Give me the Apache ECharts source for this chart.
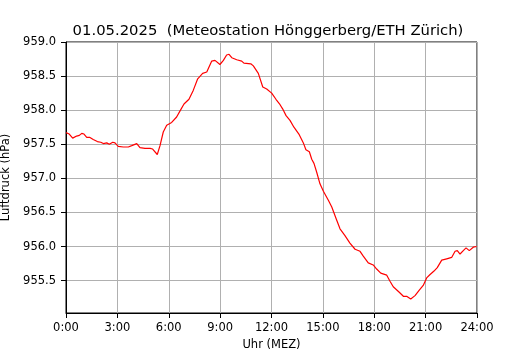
<!DOCTYPE html>
<html>
<head>
<meta charset="utf-8">
<script src="https://cdn.jsdelivr.net/npm/echarts@6/dist/echarts.min.js"></script>
<style>
    html, body { margin: 0; padding: 0; background: #fff; }
    #luftdruck_chart { width: 530px; height: 350px; }
</style>
</head>
<body>
<div id="luftdruck_chart"></div>
<script>
    // Uhrzeit in Stunden (MEZ)
    let hours = [0.0, 0.19, 0.39, 0.62, 0.78, 0.92, 1.05, 1.21, 1.40, 1.59, 1.83, 2.03, 2.18, 2.38, 2.53, 2.73, 2.86,
        3.05, 3.35, 3.64, 3.84, 4.13, 4.32, 4.61, 4.91, 5.06, 5.33, 5.49, 5.68, 5.88, 6.17, 6.46, 6.66, 6.89,
        7.18, 7.43, 7.69, 7.98, 8.22, 8.51, 8.70, 8.99, 9.19, 9.38, 9.52, 9.68, 9.97, 10.26, 10.39, 10.79,
        10.94, 11.23, 11.49, 11.72, 12.01, 12.26, 12.50, 12.65, 12.85, 13.08, 13.31, 13.62, 13.86, 14.01,
        14.21, 14.35, 14.48, 14.64, 14.83, 15.03, 15.32, 15.52, 15.77, 16.00, 16.29, 16.58, 16.88, 17.17,
        17.36, 17.65, 17.94, 18.14, 18.38, 18.73, 18.92, 19.11, 19.46, 19.70, 19.89, 20.13, 20.38, 20.63,
        20.86, 21.06, 21.26, 21.49, 21.68, 21.94, 22.23, 22.52, 22.72, 22.85, 23.01, 23.20, 23.36, 23.55,
        23.78, 23.98]
    // Luftdruck in hPa
    let pressure = [957.67, 957.65, 957.59, 957.62, 957.63, 957.66, 957.65, 957.60, 957.60, 957.57, 957.54, 957.53, 957.51, 957.52, 957.50, 957.53, 957.52,
        957.47, 957.46, 957.46, 957.48, 957.51, 957.45, 957.44, 957.44, 957.43, 957.35, 957.48, 957.68, 957.78, 957.82, 957.90, 957.99, 958.09,
        958.16, 958.29, 958.46, 958.54, 958.56, 958.72, 958.73, 958.67, 958.73, 958.81, 958.82, 958.77, 958.74, 958.72, 958.69, 958.68,
        958.65, 958.54, 958.34, 958.31, 958.25, 958.16, 958.08, 958.02, 957.92, 957.85, 957.75, 957.64, 957.52, 957.42,
        957.39, 957.28, 957.22, 957.09, 956.92, 956.81, 956.68, 956.58, 956.41, 956.26, 956.16, 956.05, 955.96, 955.93,
        955.86, 955.76, 955.73, 955.67, 955.61, 955.58, 955.49, 955.41, 955.33, 955.27, 955.27, 955.23, 955.28, 955.36,
        955.43, 955.54, 955.59, 955.64, 955.69, 955.80, 955.82, 955.84, 955.93, 955.94, 955.89, 955.94, 955.98, 955.94,
        955.99, 956.00]
    let yTicks = [955.5, 956.0, 956.5, 957.0, 957.5, 958.0, 958.5, 959.0]

    let chart = echarts.init(document.getElementById('luftdruck_chart'))
    let lineData = []
    for (let i = 0; i < hours.length; i++) {
        lineData.push([hours[i], pressure[i]])
    }

    const font = 'DejaVu Sans'
    const option = {
        animation: false,
        title: {
            text: '01.05.2025  (Meteostation Hönggerberg/ETH Zürich)',
            left: 263,
            textAlign: 'center',
            top: 19,
            textStyle: { fontFamily: font, fontSize: 14.8, fontWeight: 'normal', color: '#000' }
        },
        grid: {
            left: 66,
            right: 53,
            top: 42,
            bottom: 37,
            outerBoundsMode: 'none',
            containLabel: false,
            show: true,
            borderColor: '#000',
            borderWidth: 1
        },
        xAxis: {
            type: 'value',
            min: 0,
            max: 24,
            interval: 3,
            name: 'Uhr (MEZ)',
            nameLocation: 'middle',
            nameGap: 26,
            nameTextStyle: { fontFamily: font, fontSize: 11.5, color: '#000' },
            axisLine: { lineStyle: { color: '#000', width: 1 } },
            axisTick: { inside: false, length: 5, lineStyle: { color: '#000' } },
            axisLabel: {
                fontFamily: font, fontSize: 11.5, color: '#000', margin: 9,
                formatter: function (v) { return v + ':00' }
            },
            splitLine: { show: true, lineStyle: { color: '#b0b0b0', width: 1 } }
        },
        yAxis: {
            type: 'value',
            min: 955.025,
            max: 959.0,
            name: 'Luftdruck (hPa)',
            nameLocation: 'middle',
            nameGap: 51,
            nameTextStyle: { fontFamily: font, fontSize: 11.5, color: '#000' },
            axisLine: { show: true, lineStyle: { color: '#000', width: 1 } },
            axisTick: { show: true, length: 5, customValues: yTicks, lineStyle: { color: '#000' } },
            axisLabel: {
                fontFamily: font, fontSize: 11.5, color: '#000', margin: 10,
                customValues: yTicks,
                formatter: function (v) { return v.toFixed(1) }
            },
            splitLine: { show: true, lineStyle: { color: '#b0b0b0', width: 1 } }
        },
        series: [
            {
                type: 'line',
                data: lineData,
                showSymbol: false,
                lineStyle: { color: '#ff0000', width: 1.2 },
                itemStyle: { color: '#ff0000' }
            }
        ]
    }

    chart.setOption(option)
</script>
</body>
</html>
